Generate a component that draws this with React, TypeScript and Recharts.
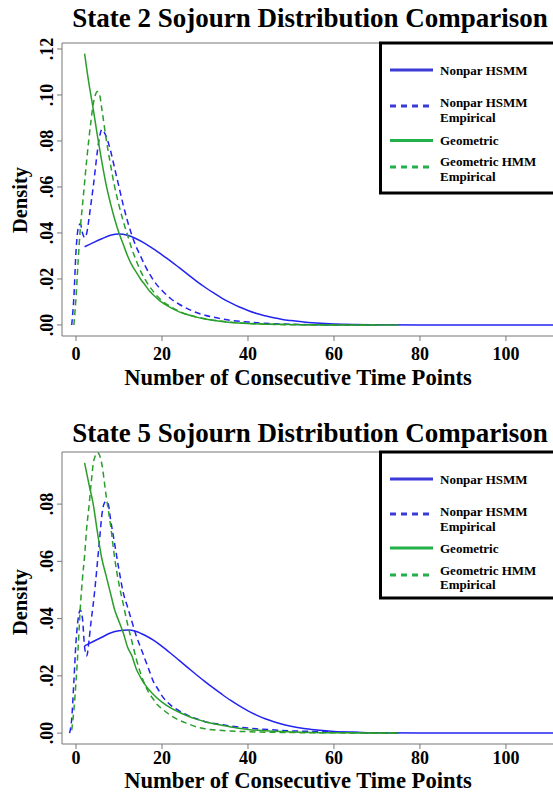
import * as React from "react"
import { LineChart, Line, XAxis, YAxis, ReferenceLine } from "recharts"

type Pt = [number, number]

// values (x = consecutive time points, y = density)
const state2Nonpar: Pt[] = [
  [2, 0.034], [4, 0.0358], [6, 0.0375], [8, 0.039], [10, 0.0396], [12, 0.039], [14, 0.0375],
  [16, 0.0355], [18, 0.0331], [20, 0.0305], [22, 0.0278], [24, 0.0249], [26, 0.022], [28, 0.0191],
  [30, 0.0164], [32, 0.0139], [34, 0.0116], [36, 0.0096], [38, 0.0078], [40, 0.0063], [42, 0.005],
  [44, 0.004], [46, 0.0031], [48, 0.0024], [50, 0.0019], [54, 0.0011], [58, 0.0006], [62, 0.0003],
  [70, 0.0001], [80, 0], [114, 0],
]
const state2NonparEmp: Pt[] = [
  [-1, 0], [-0.5, 0.012], [0, 0.032], [0.5, 0.042], [1, 0.044], [1.5, 0.04], [2, 0.038], [2.5, 0.04],
  [3, 0.046], [3.5, 0.053], [4, 0.06], [4.5, 0.068], [5, 0.076], [5.5, 0.082], [6, 0.085], [6.5, 0.084],
  [7, 0.082], [8, 0.076], [9, 0.068], [10, 0.06], [11, 0.052], [12, 0.045], [13, 0.039], [14, 0.034],
  [15, 0.03], [16, 0.026], [17, 0.0225], [18, 0.0195], [19, 0.017], [20, 0.015], [22, 0.0115],
  [24, 0.009], [26, 0.007], [28, 0.0054], [30, 0.0042], [33, 0.003], [36, 0.002], [40, 0.0013],
  [45, 0.0006], [50, 0.0003], [55, 0.0001], [60, 0], [70, 0],
]
const state2Geom: Pt[] = [
  [2, 0.118], [3, 0.105], [4, 0.094], [5, 0.082], [6, 0.071], [7, 0.061], [8, 0.053], [9, 0.046],
  [10, 0.04], [11, 0.035], [12, 0.03], [13, 0.026], [14, 0.023], [15, 0.02], [16, 0.0175], [17, 0.015],
  [18, 0.013], [19, 0.0113], [20, 0.0098], [22, 0.0075], [24, 0.0057], [26, 0.0044], [28, 0.0034],
  [30, 0.0026], [33, 0.0017], [36, 0.0011], [40, 0.0006], [45, 0.0003], [50, 0.00015], [55, 0.0001],
  [60, 0], [75, 0],
]
const state2GeomEmp: Pt[] = [
  [-0.5, 0], [0, 0.012], [0.5, 0.028], [1, 0.042], [1.5, 0.052], [2, 0.062], [2.5, 0.072], [3, 0.081],
  [3.5, 0.089], [4, 0.096], [4.5, 0.1], [5, 0.1015], [5.5, 0.1], [6, 0.094], [7, 0.081], [8, 0.07],
  [9, 0.06], [10, 0.052], [11, 0.045], [12, 0.039], [13, 0.033], [14, 0.028], [15, 0.0235], [16, 0.02],
  [17, 0.017], [18, 0.0145], [19, 0.0123], [20, 0.0105], [22, 0.008], [24, 0.006], [26, 0.0045],
  [28, 0.0035], [30, 0.0027], [33, 0.0018], [36, 0.0012], [40, 0.0007], [45, 0.0003], [50, 0.0001],
  [55, 0], [70, 0],
]

const state5Nonpar: Pt[] = [
  [2, 0.0305], [4, 0.032], [6, 0.0335], [8, 0.035], [10, 0.0358], [12, 0.036], [14, 0.0355],
  [16, 0.0342], [18, 0.0325], [20, 0.0303], [22, 0.0279], [24, 0.0254], [26, 0.0229], [28, 0.0204],
  [30, 0.018], [32, 0.0157], [34, 0.0135], [36, 0.0114], [38, 0.0095], [40, 0.0078], [42, 0.0063],
  [44, 0.005], [46, 0.004], [48, 0.0031], [50, 0.0024], [53, 0.0016], [56, 0.0011], [60, 0.0006],
  [65, 0.0003], [70, 0.0001], [80, 0], [114, 0],
]
const state5NonparEmp: Pt[] = [
  [-1.5, 0], [-1, 0.005], [-0.5, 0.018], [0, 0.032], [0.5, 0.04], [1, 0.043], [1.5, 0.04], [2, 0.03],
  [2.5, 0.027], [3, 0.032], [3.5, 0.039], [4, 0.045], [4.5, 0.052], [5, 0.06], [5.5, 0.068],
  [6, 0.076], [6.5, 0.08], [7, 0.081], [7.5, 0.08], [8, 0.075], [9, 0.066], [10, 0.057], [11, 0.049],
  [12, 0.044], [13, 0.039], [14, 0.034], [15, 0.03], [16, 0.026], [17, 0.022], [18, 0.018],
  [19, 0.0155], [20, 0.013], [22, 0.0098], [24, 0.0078], [26, 0.0062], [28, 0.005], [30, 0.004],
  [33, 0.0032], [36, 0.0025], [40, 0.0018], [45, 0.0012], [50, 0.0008], [55, 0.0006], [60, 0.0004],
  [65, 0.0002], [70, 0.0001], [75, 0],
]
const state5Geom: Pt[] = [
  [2, 0.0944], [3, 0.087], [4, 0.08], [5, 0.07], [6, 0.061], [7, 0.055], [8, 0.049], [9, 0.043],
  [10, 0.039], [11, 0.035], [12, 0.03], [13, 0.027], [14, 0.0225], [15, 0.0195], [16, 0.017],
  [18, 0.0135], [20, 0.0108], [22, 0.0088], [24, 0.0073], [26, 0.006], [28, 0.0049], [30, 0.004],
  [33, 0.003], [36, 0.0021], [40, 0.0013], [45, 0.0007], [50, 0.0004], [55, 0.0002], [60, 0.0001],
  [70, 0], [75, 0],
]
const state5GeomEmp: Pt[] = [
  [-1, 0.001], [-0.5, 0.008], [0, 0.018], [0.5, 0.03], [1, 0.044], [1.5, 0.054], [2, 0.062],
  [2.5, 0.072], [3, 0.079], [3.5, 0.087], [4, 0.094], [4.5, 0.097], [5, 0.098], [5.5, 0.097],
  [6, 0.094], [7, 0.083], [8, 0.073], [9, 0.061], [10, 0.052], [11, 0.045], [12, 0.038], [13, 0.032],
  [14, 0.026], [15, 0.021], [16, 0.017], [17, 0.014], [18, 0.0118], [19, 0.0098], [20, 0.0085],
  [22, 0.0062], [24, 0.0045], [26, 0.0033], [28, 0.0022], [30, 0.0015], [34, 0.0009], [40, 0.0005],
  [50, 0.0002], [60, 0.0001], [75, 0],
]

const xTicks = [0, 20, 40, 60, 80, 100]
const state2YTicks = [0, 0.02, 0.04, 0.06, 0.08, 0.1, 0.12]
const state5YTicks = [0, 0.02, 0.04, 0.06, 0.08]
const legendLabels = [["Nonpar HSMM"], ["Nonpar HSMM", "Empirical"], ["Geometric"], ["Geometric HMM", "Empirical"]]

const FONT = '"Liberation Serif", "Times New Roman", serif'
const BLUE = "#2323f2"
const GREEN = "#2a9e2a"
const AXIS = "#777"

const toRows = (pts: Pt[]) => pts.map(([x, y]) => ({ x, y }))
const fmtY = (v: number) => v.toFixed(2).replace(/^0/, "")

const YTick = (props: any) => {
  const { x, y, payload } = props
  const cx = x - 8
  return (
    <text x={cx} y={y} transform={`rotate(-90 ${cx} ${y})`} textAnchor="middle" dominantBaseline="central"
      fontFamily={FONT} fontWeight="bold" fontSize={18} fill="#000">
      {fmtY(payload.value)}
    </text>
  )
}

const Panel = ({ top, title, series, yDomain, yTicks, plotTop, plotBottom, titleY, tickY, labelY, densityY, legendBox, legendRows }: any) => {
  const height = plotBottom + 64
  const styles = [
    { color: BLUE, dash: undefined },
    { color: BLUE, dash: "6 4" },
    { color: GREEN, dash: undefined },
    { color: GREEN, dash: "6 4" },
  ]
  return (
    <div style={{ position: "absolute", left: 0, top, width: 553, height, overflow: "hidden" }}>
      <LineChart width={580} height={height} margin={{ top: plotTop, right: 10, bottom: height - plotBottom - 30, left: 0 }}>
        <XAxis type="number" dataKey="x" domain={[-3.26, 114.9]} ticks={xTicks} allowDataOverflow
          height={30} tickSize={5} stroke={AXIS}
          tick={(p: any) => (
            <text x={p.x} y={tickY} textAnchor="middle" fontFamily={FONT} fontWeight="bold" fontSize={18} fill="#000">
              {p.payload.value}
            </text>
          )} />
        <YAxis type="number" dataKey="y" domain={yDomain} ticks={yTicks} allowDataOverflow
          width={62} tickSize={5} stroke={AXIS} tick={<YTick />} />
        <ReferenceLine y={yDomain[1]} stroke={AXIS} />
        {series.map((pts: Pt[], i: number) => (
          <Line key={i} data={toRows(pts)} dataKey="y" type="monotone" dot={false} stroke={styles[i].color}
            strokeWidth={1.5} strokeDasharray={styles[i].dash} isAnimationActive={false} />
        ))}
      </LineChart>
      <svg width={553} height={height} style={{ position: "absolute", left: 0, top: 0, pointerEvents: "none" }}>
        <text x={310} y={titleY} textAnchor="middle" fontFamily={FONT} fontWeight="bold" fontSize={27}>{title}</text>
        <text x={298} y={labelY} textAnchor="middle" fontFamily={FONT} fontWeight="bold" fontSize={22.6}>
          Number of Consecutive Time Points
        </text>
        <text x={20} y={densityY} transform={`rotate(-90 20 ${densityY})`} textAnchor="middle" dominantBaseline="central"
          fontFamily={FONT} fontWeight="bold" fontSize={20.5}>Density</text>
        <rect x={380.5} y={legendBox[0]} width={200} height={legendBox[1] - legendBox[0]} fill="#fff" stroke="#000" strokeWidth={3} />
        {legendRows.map((r: any, i: number) => (
          <g key={i}>
            <line x1={390} x2={433} y1={r.lineY} y2={r.lineY} stroke={i < 2 ? "#3a3ad6" : "#22b04a"} strokeWidth={3}
              strokeDasharray={i % 2 === 1 ? "6 5" : undefined} />
            {legendLabels[i].map((t, j) => (
              <text key={j} x={440} y={r.texts[j]} dominantBaseline="central" fontFamily={FONT} fontWeight="bold" fontSize={13}>{t}</text>
            ))}
          </g>
        ))}
      </svg>
    </div>
  )
}

export default function App() {
  return (
    <div style={{ position: "absolute", left: 0, top: 0, width: 553, height: 802, background: "#fff", overflow: "hidden" }}>
      <Panel top={0} title="State 2 Sojourn Distribution Comparison"
        series={[state2Nonpar, state2NonparEmp, state2Geom, state2GeomEmp]}
        yDomain={[-0.0048, 0.1226]} yTicks={state2YTicks} plotTop={43} plotBottom={336}
        titleY={27} tickY={360} labelY={385} densityY={200} legendBox={[43, 193]}
        legendRows={[
          { lineY: 70, texts: [70] }, { lineY: 106, texts: [102, 117] },
          { lineY: 140.5, texts: [140] }, { lineY: 167, texts: [161, 176] },
        ]} />
      <Panel top={400} title="State 5 Sojourn Distribution Comparison"
        series={[state5Nonpar, state5NonparEmp, state5Geom, state5GeomEmp]}
        yDomain={[-0.0038, 0.0982]} yTicks={state5YTicks} plotTop={52} plotBottom={344}
        titleY={42} tickY={364} labelY={388} densityY={202} legendBox={[52, 198]}
        legendRows={[
          { lineY: 79, texts: [79] }, { lineY: 114, texts: [111, 126] },
          { lineY: 148, texts: [148] }, { lineY: 175, texts: [170, 184] },
        ]} />
    </div>
  )
}
